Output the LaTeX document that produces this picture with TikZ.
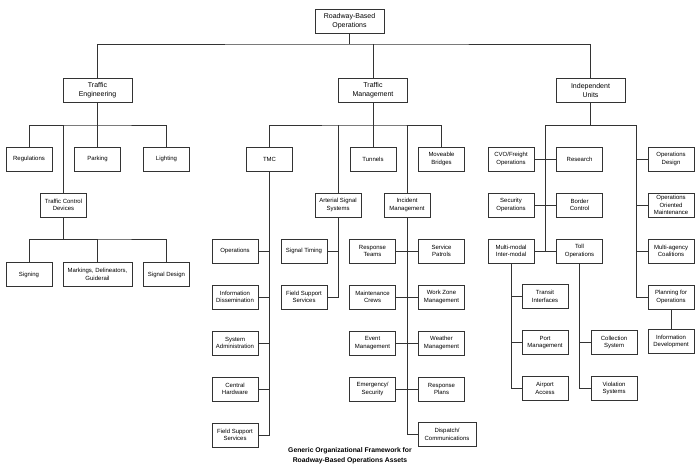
\documentclass[tikz,border=0pt]{standalone}
\usepackage{fontspec}
\setmainfont{Liberation Sans}
\usetikzlibrary{calc}
\tikzstyle{every node}=[font=\fontsize{6}{7.6}\selectfont]
\tikzstyle{block} = [rectangle, draw=black!80, line width=0.8pt, align=center, minimum width=46pt, minimum height=24pt, inner sep=1pt]
\tikzstyle{widebox} = [block, minimum width=69pt]
\tikzstyle{headbox} = [widebox, font=\fontsize{7}{9}\selectfont]
\tikzstyle{line} = [draw, line width=0.8pt, black!80]

\begin{document}
\begin{tikzpicture}[x=1pt, y=-1pt, node distance=46pt]
    \useasboundingbox (0,0) rectangle (700,475);
    % Place nodes
    \node [headbox] (root) at (349.5,21) {Roadway-Based\\Operations};
    \node [headbox] (te) at (97.5,90.5) {Traffic\\Engineering};
    \node [headbox] (tm) at (373,90.5) {Traffic\\Management};
    \node [headbox] (iu) at (590.5,90.5) {Independent\\Units};
    % Traffic engineering
    \node [block] (reg) at (29,159) {Regulations};
    \node [block] (park) at (97.5,159) {Parking};
    \node [block] (light) at (166.5,159) {Lighting};
    \node [block] (tcd) at (63.5,205) {Traffic Control\\Devices};
    \node [block] (sign) at (29,274.5) {Signing};
    \node [widebox] (mark) at (97.5,274.5) {Markings, Delineators,\\Guiderail};
    \node [block] (sigd) at (166.5,274.5) {Signal Design};
    % Traffic management
    \node [block] (tmc) at (269.5,159) {TMC};
    \node [block] (tun) at (373,159) {Tunnels};
    \node [block] (mov) at (441.5,159) {Moveable\\Bridges};
    \node [block] (ass) at (338,205) {Arterial Signal\\Systems};
    \node [block] (inc) at (407,205) {Incident\\Management};
    \node [block] (ops) at (235,251) {Operations};
    \node [block, below of=ops] (info) {Information\\Dissemination};
    \node [block, below of=info] (sysad) {System\\Administration};
    \node [block, below of=sysad] (cent) {Central\\Hardware};
    \node [block, below of=cent] (fss1) {Field Support\\Services};
    \node [block] (sigt) at (304,251) {Signal Timing};
    \node [block, below of=sigt] (fss2) {Field Support\\Services};
    \node [block] (resp) at (372.5,251) {Response\\Teams};
    \node [block, below of=resp] (maint) {Maintenance\\Crews};
    \node [block, below of=maint] (event) {Event\\Management};
    \node [block, below of=event] (emerg) {Emergency/\\Security};
    \node [block] (serv) at (441.5,251) {Service\\Patrols};
    \node [block, below of=serv] (wz) {Work Zone\\Management};
    \node [block, below of=wz] (weather) {Weather\\Management};
    \node [block, below of=weather] (plans) {Response\\Plans};
    \node [block, minimum width=58pt] (disp) at (447,434.5) {Dispatch/\\Communications};
    % Independent units
    \node [block] (cvo) at (511,159) {CVO/Freight\\Operations};
    \node [block] (res) at (579.5,159) {Research};
    \node [block] (sec) at (511,205) {Security\\Operations};
    \node [block] (bord) at (579.5,205) {Border\\Control};
    \node [block] (multi) at (511,251) {Multi-modal\\Inter-modal};
    \node [block] (toll) at (579.5,251) {Toll\\Operations};
    \node [block] (trans) at (545,296.5) {Transit\\Interfaces};
    \node [block, below of=trans] (port) {Port\\Management};
    \node [block, below of=port] (air) {Airport\\Access};
    \node [block] (coll) at (614,342.5) {Collection\\System};
    \node [block, below of=coll] (viol) {Violation\\Systems};
    \node [block] (opsd) at (671,159) {Operations\\Design};
    \node [block] (oom) at (671,205) {Operations\\Oriented\\Maintenance};
    \node [block] (multa) at (671,251) {Multi-agency\\Coalitions};
    \node [block] (plan) at (671,297) {Planning for\\Operations};
    \node [block] (infod) at (671,341.5) {Information\\Development};
    % Caption
    \node [font=\bfseries\fontsize{6.8}{9.6}\selectfont, align=center] (cap) at (350,455.5) {Generic Organizational Framework for\\Roadway-Based Operations Assets};
    % Draw edges
    \coordinate (b0) at (349.5,44);
    \path [line] (root.south) -- (b0);
    \path [line] (te.north) |- (b0) -| (iu.north);
    \path [line] (tm.north) -- (tm.north |- b0);
    % traffic engineering tree
    \coordinate (b1) at (97.5,125);
    \path [line] (te.south) -- (b1);
    \path [line] (reg.north) |- (b1) -| (light.north);
    \path [line] (park.north) -- (b1);
    \path [line] (tcd.north) -- (tcd.north |- b1);
    \coordinate (b2) at (97.5,239);
    \path [line] (tcd.south) |- (b2);
    \path [line] (sign.north) |- (b2) -| (sigd.north);
    \path [line] (mark.north) -- (b2);
    % traffic management tree
    \coordinate (b3) at (373,125);
    \path [line] (tm.south) -- (b3);
    \path [line] (tmc.north) |- (b3) -| (mov.north);
    \path [line] (tun.north) -- (b3);
    \path [line] (ass.north) -- (ass.north |- b3);
    \path [line] (inc.north) -- (inc.north |- b3);
    \path [line] (tmc.south) |- (fss1.east);
    \foreach \n in {ops,info,sysad,cent}
        \path [line] (\n.east) -- (\n.east -| tmc.south);
    \path [line] (ass.south) |- (fss2.east);
    \path [line] (sigt.east) -- (sigt.east -| ass.south);
    \path [line] (inc.south) |- (disp.west);
    \foreach \a/\b in {resp/serv,maint/wz,event/weather,emerg/plans}
        \path [line] (\a.east) -- (\b.west);
    % independent units tree
    \coordinate (b4) at (590.5,125);
    \coordinate (lt) at (545,125);
    \coordinate (rt) at (636,125);
    \path [line] (iu.south) -- (b4);
    \path [line] (lt) -- (rt);
    \path [line] (lt) -- (lt |- multi.east);
    \foreach \a/\b in {cvo/res,sec/bord,multi/toll}
        \path [line] (\a.east) -- (\b.west);
    \path [line] (rt) |- (plan.west);
    \foreach \n in {opsd,oom,multa}
        \path [line] (\n.west) -- (\n.west -| rt);
    \path [line] (plan.south) -- (infod.north);
    \path [line] (multi.south) |- (air.west);
    \foreach \n in {trans,port}
        \path [line] (\n.west) -- (\n.west -| multi.south);
    \path [line] (toll.south) |- (viol.west);
    \path [line] (coll.west) -- (coll.west -| toll.south);
\end{tikzpicture}
\end{document}
